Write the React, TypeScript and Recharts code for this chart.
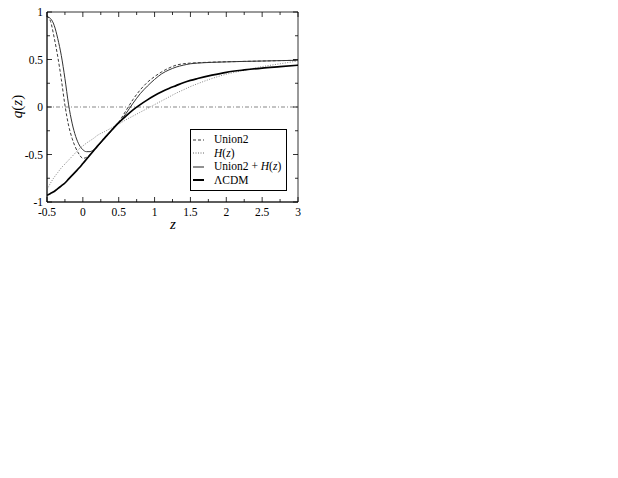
import React from "react";
import { LineChart, Line, XAxis, YAxis, ReferenceLine, ReferenceArea } from "recharts";

const zValues = [-0.5, -0.45, -0.4, -0.35, -0.3, -0.25, -0.2, -0.15, -0.1, -0.05, 0, 0.05, 0.1, 0.15, 0.2, 0.3, 0.4, 0.5, 0.6, 0.7, 0.8, 0.9, 1.0, 1.1, 1.2, 1.3, 1.4, 1.5, 1.6, 1.8, 2.0, 2.25, 2.5, 2.75, 3.0];
const union2 = [0.96, 0.9, 0.73, 0.53, 0.29, 0.02, -0.19, -0.33, -0.43, -0.5, -0.54, -0.53, -0.5, -0.46, -0.42, -0.33, -0.25, -0.16, -0.04, 0.08, 0.18, 0.26, 0.32, 0.37, 0.41, 0.44, 0.455, 0.462, 0.466, 0.472, 0.476, 0.48, 0.484, 0.488, 0.492];
const hz = [-0.87, -0.8, -0.74, -0.69, -0.64, -0.6, -0.56, -0.52, -0.48, -0.44, -0.41, -0.38, -0.355, -0.33, -0.3, -0.26, -0.22, -0.18, -0.135, -0.095, -0.055, -0.015, 0.025, 0.065, 0.105, 0.145, 0.18, 0.215, 0.245, 0.3, 0.345, 0.385, 0.425, 0.455, 0.485];
const union2Hz = [0.95, 0.93, 0.86, 0.72, 0.54, 0.3, 0.03, -0.17, -0.31, -0.4, -0.45, -0.47, -0.47, -0.45, -0.42, -0.33, -0.25, -0.17, -0.07, 0.04, 0.14, 0.22, 0.29, 0.35, 0.39, 0.42, 0.44, 0.455, 0.462, 0.47, 0.475, 0.48, 0.484, 0.488, 0.492];
const lcdm = [-0.93, -0.91, -0.89, -0.86, -0.83, -0.8, -0.76, -0.72, -0.68, -0.64, -0.595, -0.55, -0.505, -0.46, -0.415, -0.33, -0.245, -0.165, -0.095, -0.03, 0.025, 0.075, 0.12, 0.16, 0.195, 0.225, 0.255, 0.28, 0.3, 0.335, 0.365, 0.39, 0.41, 0.425, 0.44];

const xTicks = [-0.5, -0.25, 0, 0.25, 0.5, 0.75, 1, 1.25, 1.5, 1.75, 2, 2.25, 2.5, 2.75, 3];
const yTicks = [-1, -0.75, -0.5, -0.25, 0, 0.25, 0.5, 0.75, 1];

const data = zValues.map((z, i) => ({ z, union2: union2[i], hz: hz[i], union2Hz: union2Hz[i], lcdm: lcdm[i] }));

const FONT = "Liberation Serif, Times New Roman, serif";
// plot frame in chart coordinates (chart is shifted up 4px so the top label fits)
const PL = 39, PR = 290, PT = 8, PB = 198;

const isMajor = (v: number) => Math.abs(v * 2 - Math.round(v * 2)) < 1e-6;

const XTick = (props: any) => {
  const { x, payload } = props;
  const v = payload.value;
  const len = isMajor(v) ? 5 : 3;
  return (
    <g>
      <line x1={x} y1={PB} x2={x} y2={PB - len} stroke="#000" strokeWidth={0.8} />
      <line x1={x} y1={PT} x2={x} y2={PT + len} stroke="#000" strokeWidth={0.8} />
      {isMajor(v) && (
        <text x={x} y={PB + 14} textAnchor="middle" fontSize={11.5} fontFamily={FONT} fill="#000">{String(v)}</text>
      )}
    </g>
  );
};

const YTick = (props: any) => {
  const { y, payload } = props;
  const v = payload.value;
  const len = isMajor(v) ? 5 : 3;
  return (
    <g>
      <line x1={PL} y1={y} x2={PL + len} y2={y} stroke="#000" strokeWidth={0.8} />
      <line x1={PR} y1={y} x2={PR - len} y2={y} stroke="#000" strokeWidth={0.8} />
      {isMajor(v) && (
        <text x={PL - 4} y={y + 4} textAnchor="end" fontSize={11.5} fontFamily={FONT} fill="#000">{String(v)}</text>
      )}
    </g>
  );
};

const LegendBox = () => {
  const row = (sample: React.ReactNode, label: React.ReactNode) => (
    <div style={{ display: "flex", alignItems: "center", height: 13.5 }}>
      <svg width={18} height={8} style={{ marginLeft: 2, marginRight: 3 }}>{sample}</svg>
      <span>{label}</span>
    </div>
  );
  return (
    <div style={{ position: "absolute", left: 182, top: 125, border: "1px solid #000", background: "#fff", width: 97, height: 62, boxSizing: "border-box", padding: "3px 0 0 0", fontFamily: FONT, fontSize: 11.5, color: "#000", lineHeight: "13px" }}>
      {row(<line x1={0} y1={4} x2={11} y2={4} stroke="#222" strokeWidth={0.9} strokeDasharray="3 2" />, "Union2")}
      {row(<line x1={0} y1={4} x2={11} y2={4} stroke="#555" strokeWidth={0.9} strokeDasharray="1 1.5" />, <span><i>H</i>(<i>z</i>)</span>)}
      {row(<line x1={0} y1={4} x2={11} y2={4} stroke="#222" strokeWidth={1} />, <span>Union2 + <i>H</i>(<i>z</i>)</span>)}
      {row(<line x1={0} y1={4} x2={11} y2={4} stroke="#000" strokeWidth={2} />, "ΛCDM")}
    </div>
  );
};

export default function App() {
  return (
    <div style={{ position: "relative", width: 300, height: 244, marginTop: -4 }}>
      <LineChart width={300} height={244} data={data} margin={{ top: PT, right: 300 - PR, bottom: 0, left: 0 }}>
        <XAxis type="number" dataKey="z" domain={[-0.5, 3]} ticks={xTicks} interval={0} allowDataOverflow
          height={244 - PB} tickLine={false} axisLine={{ stroke: "#000", strokeWidth: 0.8 }} tick={XTick} tickSize={0} />
        <YAxis type="number" domain={[-1, 1]} ticks={yTicks} interval={0} allowDataOverflow
          width={PL} tickLine={false} axisLine={{ stroke: "#000", strokeWidth: 0.8 }} tick={YTick} tickSize={0} />
        <ReferenceArea x1={-0.5} x2={3} y1={-1} y2={1} fill="none" stroke="#000" strokeWidth={0.8} />
        <ReferenceLine y={0} stroke="#555" strokeWidth={0.7} strokeDasharray="4 2 1 2" />
        <Line type="monotone" dataKey="hz" stroke="#777" strokeWidth={0.9} strokeDasharray="1 1.5" dot={false} isAnimationActive={false} />
        <Line type="monotone" dataKey="union2" stroke="#222" strokeWidth={0.9} strokeDasharray="3 2" dot={false} isAnimationActive={false} />
        <Line type="monotone" dataKey="union2Hz" stroke="#333" strokeWidth={1} dot={false} isAnimationActive={false} />
        <Line type="monotone" dataKey="lcdm" stroke="#000" strokeWidth={1.7} dot={false} isAnimationActive={false} />
      </LineChart>
      <LegendBox />
      <div style={{ position: "absolute", left: 162, top: 212, fontFamily: FONT, fontStyle: "italic", fontSize: 15 }}>z</div>
      <div style={{ position: "absolute", left: -9, top: 94, width: 36, textAlign: "center", fontFamily: FONT, fontSize: 15, transform: "rotate(-90deg)", transformOrigin: "center" }}>
        <i>q</i>(<i>z</i>)
      </div>
    </div>
  );
}
